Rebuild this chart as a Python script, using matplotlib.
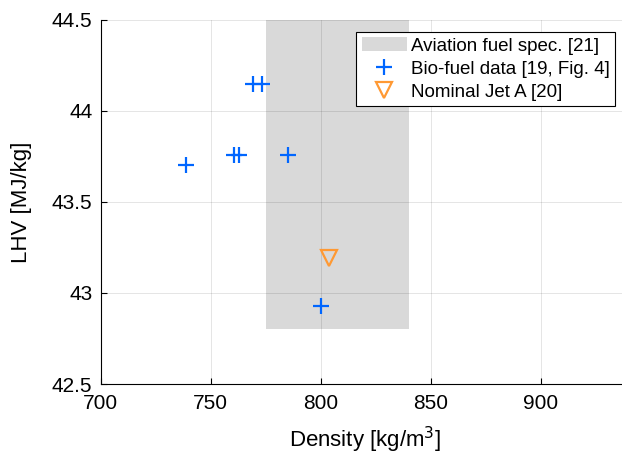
import matplotlib.pyplot as plt
import matplotlib as mpl

# data
spec_density = [775, 840]
spec_lhv = [42.8, 44.5]

bio_density = [738.8, 760.6, 762.7, 785.0, 769.4, 773.5, 800.3]
bio_lhv = [43.70, 43.76, 43.76, 43.76, 44.15, 44.15, 42.93]

jeta_density = [803.9]
jeta_lhv = [43.19]

xticks = [700, 750, 800, 850, 900]
yticks = [42.5, 43, 43.5, 44, 44.5]
yticklabels = ['42.5', '43', '43.5', '44', '44.5']

mpl.rcParams['font.family'] = ['Liberation Sans', 'DejaVu Sans']

fig = plt.figure(figsize=(6.22, 4.61), dpi=100)
ax = fig.add_axes([0.162, 0.167, 0.849, 0.790])

ax.fill_between(spec_density, spec_lhv[0], spec_lhv[1], color='#d9d9d9',
                linewidth=0, label='Aviation fuel spec. [21]', zorder=1)
ax.plot(bio_density, bio_lhv, linestyle='none', marker='+', markersize=11,
        markeredgewidth=1.6, color='#0066ff', label='Bio-fuel data [19, Fig. 4]', zorder=3)
ax.plot(jeta_density, jeta_lhv, linestyle='none', marker='v', markersize=12,
        markerfacecolor='none', markeredgewidth=1.6, color='#ff9933',
        label='Nominal Jet A [20]', zorder=3)

ax.set_xlim(700, 940)
ax.set_ylim(42.5, 44.5)
ax.set_xticks(xticks)
ax.set_yticks(yticks)
ax.set_yticklabels(yticklabels)

ax.set_axisbelow(False)
ax.grid(True, color='black', alpha=0.12, linewidth=0.6)
ax.spines['top'].set_visible(False)
ax.spines['right'].set_visible(False)
ax.tick_params(direction='in', labelsize=15, length=4, width=0.8)
ax.tick_params(axis='x', pad=7)
ax.tick_params(axis='y', pad=6)

ax.set_xlabel('Density [kg/m$^3$]', fontsize=16, labelpad=9)
ax.set_ylabel('LHV [MJ/kg]', fontsize=16, labelpad=14)

leg = ax.legend(loc='upper right', bbox_to_anchor=(0.974, 0.967),
                fontsize=13.5, frameon=True, fancybox=False, framealpha=1,
                edgecolor='black', borderpad=0.3, labelspacing=0.32,
                handlelength=2.4, handletextpad=0.2, borderaxespad=0)
leg.get_frame().set_linewidth(0.8)

fig.savefig('out.png', dpi=100)
